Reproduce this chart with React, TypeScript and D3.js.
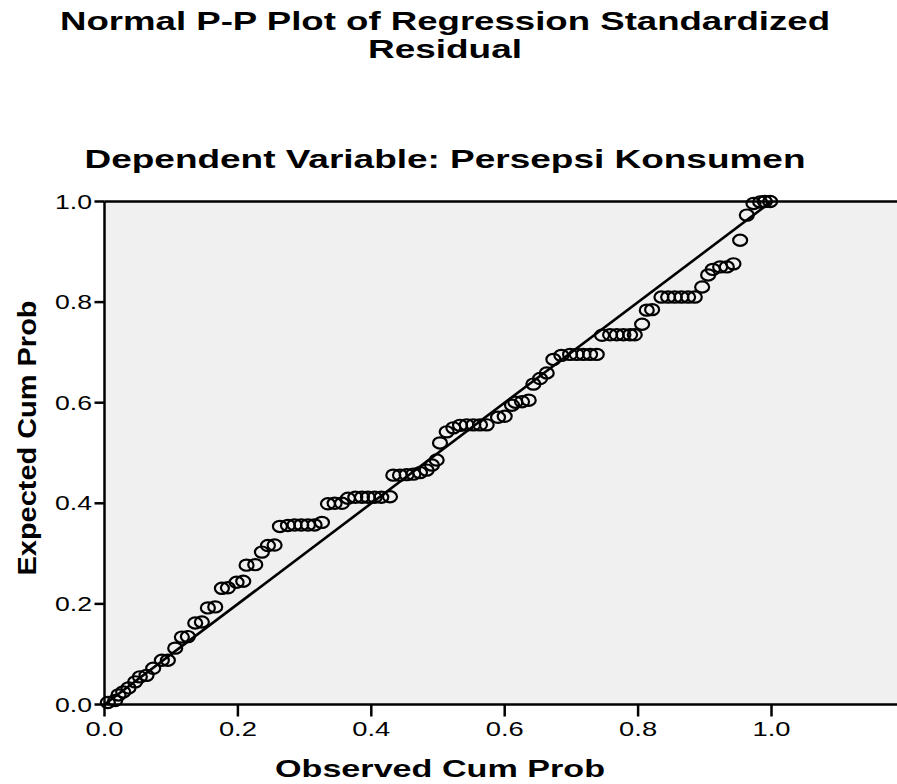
import React from "react";
import * as d3 from "d3";

const observed: number[] = [
  0.005, 0.016, 0.021, 0.028, 0.036, 0.046, 0.053, 0.063, 0.073, 0.086,
  0.095, 0.106, 0.116, 0.125, 0.136, 0.146, 0.155, 0.166, 0.176, 0.185,
  0.198, 0.208, 0.213, 0.226, 0.236, 0.245, 0.255, 0.263, 0.275, 0.285,
  0.295, 0.305, 0.315, 0.326, 0.335, 0.345, 0.356, 0.365, 0.376, 0.386,
  0.395, 0.405, 0.415, 0.428, 0.433, 0.443, 0.453, 0.463, 0.473, 0.483,
  0.491, 0.498, 0.503, 0.513, 0.523, 0.533, 0.543, 0.553, 0.563, 0.573,
  0.59, 0.6, 0.611, 0.616, 0.626, 0.636, 0.643, 0.653, 0.663, 0.673,
  0.685, 0.698, 0.708, 0.718, 0.728, 0.738, 0.746, 0.758, 0.768, 0.778,
  0.788, 0.795, 0.806, 0.813, 0.821, 0.835, 0.845, 0.855, 0.865, 0.875,
  0.885, 0.896, 0.905, 0.912, 0.923, 0.933, 0.943, 0.953, 0.963, 0.973,
  0.983, 0.99, 0.998,
];

const expected: number[] = [
  0.004, 0.008, 0.019, 0.025, 0.033, 0.045, 0.055, 0.058, 0.072, 0.088,
  0.088, 0.112, 0.134, 0.135, 0.162, 0.164, 0.192, 0.194, 0.231, 0.232,
  0.243, 0.245, 0.277, 0.278, 0.303, 0.316, 0.317, 0.354, 0.356, 0.357,
  0.357, 0.357, 0.357, 0.362, 0.399, 0.4, 0.4, 0.41, 0.412, 0.412,
  0.412, 0.412, 0.412, 0.413, 0.456, 0.456, 0.457, 0.458, 0.461, 0.466,
  0.476, 0.486, 0.52, 0.542, 0.55, 0.555, 0.556, 0.556, 0.556, 0.556,
  0.571, 0.573, 0.595, 0.601, 0.602, 0.605, 0.637, 0.648, 0.659, 0.686,
  0.694, 0.696, 0.696, 0.696, 0.696, 0.696, 0.734, 0.735, 0.735, 0.735,
  0.735, 0.735, 0.756, 0.784, 0.785, 0.81, 0.81, 0.81, 0.81, 0.81,
  0.81, 0.83, 0.854, 0.865, 0.87, 0.87, 0.876, 0.923, 0.973, 0.996,
  0.999, 1.0, 1.0,
];

const tickValues: number[] = [0, 0.2, 0.4, 0.6, 0.8, 1.0];
const tickLabels: string[] = ["0.0", "0.2", "0.4", "0.6", "0.8", "1.0"];

const titleLine1 = "Normal P-P Plot of Regression Standardized";
const titleLine2 = "Residual";
const subtitle = "Dependent Variable: Persepsi Konsumen";
const xTitle = "Observed Cum Prob";
const yTitle = "Expected Cum Prob";

const W = 897;
const H = 784;
const FONT = "'Liberation Sans', Arial, sans-serif";

export default function App() {
  const x = d3.scaleLinear().domain([0, 1]).range([104.5, 771.5]);
  const y = d3.scaleLinear().domain([0, 1]).range([704.5, 201.5]);
  const plotLeft = x(0);
  const plotRight = W;
  const plotTop = y(1);
  const plotBottom = y(0);

  const line = d3.line<[number, number]>()
    .x((d) => x(d[0]))
    .y((d) => y(d[1]));

  const points = observed.map((o, i) => ({ o, e: expected[i] }));

  return (
    <svg
      width={W}
      height={H}
      style={{ position: "absolute", left: 0, top: 0, background: "#fff" }}
    >
      <rect x={0} y={0} width={W} height={H} fill="#ffffff" />
      {/* titles */}
      <text x={445} y={30} textAnchor="middle" fontFamily={FONT} fontWeight="bold"
        fontSize={25} textLength={770} lengthAdjust="spacingAndGlyphs" fill="#000">
        {titleLine1}
      </text>
      <text x={445} y={58} textAnchor="middle" fontFamily={FONT} fontWeight="bold"
        fontSize={25} textLength={154} lengthAdjust="spacingAndGlyphs" fill="#000">
        {titleLine2}
      </text>
      <text x={445} y={168} textAnchor="middle" fontFamily={FONT} fontWeight="bold"
        fontSize={26} textLength={721} lengthAdjust="spacingAndGlyphs" fill="#000">
        {subtitle}
      </text>

      {/* plot background */}
      <rect x={plotLeft} y={plotTop} width={plotRight - plotLeft} height={plotBottom - plotTop}
        fill="#f0f0f0" />

      {/* diagonal */}
      <path d={line([[0, 0], [1, 1]]) || ""} stroke="#000" strokeWidth={2.6} fill="none" />

      {/* points */}
      {points.map((p, i) => (
        <ellipse key={i} cx={x(p.o)} cy={y(p.e)} rx={7} ry={5.6}
          fill="none" stroke="#000" strokeWidth={2.2} />
      ))}

      {/* axes */}
      <line x1={plotLeft} x2={plotRight} y1={plotTop} y2={plotTop} stroke="#000" strokeWidth={2.5} />
      <line x1={plotLeft} x2={plotRight} y1={plotBottom} y2={plotBottom} stroke="#000" strokeWidth={2.5} />
      <line x1={plotLeft} x2={plotLeft} y1={plotTop} y2={plotBottom + 1} stroke="#000" strokeWidth={2.5} />

      {tickValues.map((t, i) => (
        <g key={"x" + i}>
          <line x1={x(t)} x2={x(t)} y1={plotBottom} y2={plotBottom + 12} stroke="#000" strokeWidth={2.5} />
          <text x={x(t)} y={736} textAnchor="middle" fontFamily={FONT} fontSize={20}
            textLength={38} lengthAdjust="spacingAndGlyphs" fill="#000">
            {tickLabels[i]}
          </text>
        </g>
      ))}
      {tickValues.map((t, i) => (
        <g key={"y" + i}>
          <line x1={plotLeft - 10} x2={plotLeft} y1={y(t)} y2={y(t)} stroke="#000" strokeWidth={2.5} />
          <text x={92} y={y(t) + 7} textAnchor="end" fontFamily={FONT} fontSize={20}
            textLength={37} lengthAdjust="spacingAndGlyphs" fill="#000">
            {tickLabels[i]}
          </text>
        </g>
      ))}

      {/* axis titles */}
      <text x={440} y={777} textAnchor="middle" fontFamily={FONT} fontWeight="bold"
        fontSize={24} textLength={330} lengthAdjust="spacingAndGlyphs" fill="#000">
        {xTitle}
      </text>
      <text transform={`translate(36, 438) rotate(-90)`} textAnchor="middle" fontFamily={FONT}
        fontWeight="bold" fontSize={25} textLength={275} lengthAdjust="spacingAndGlyphs" fill="#000">
        {yTitle}
      </text>
    </svg>
  );
}
